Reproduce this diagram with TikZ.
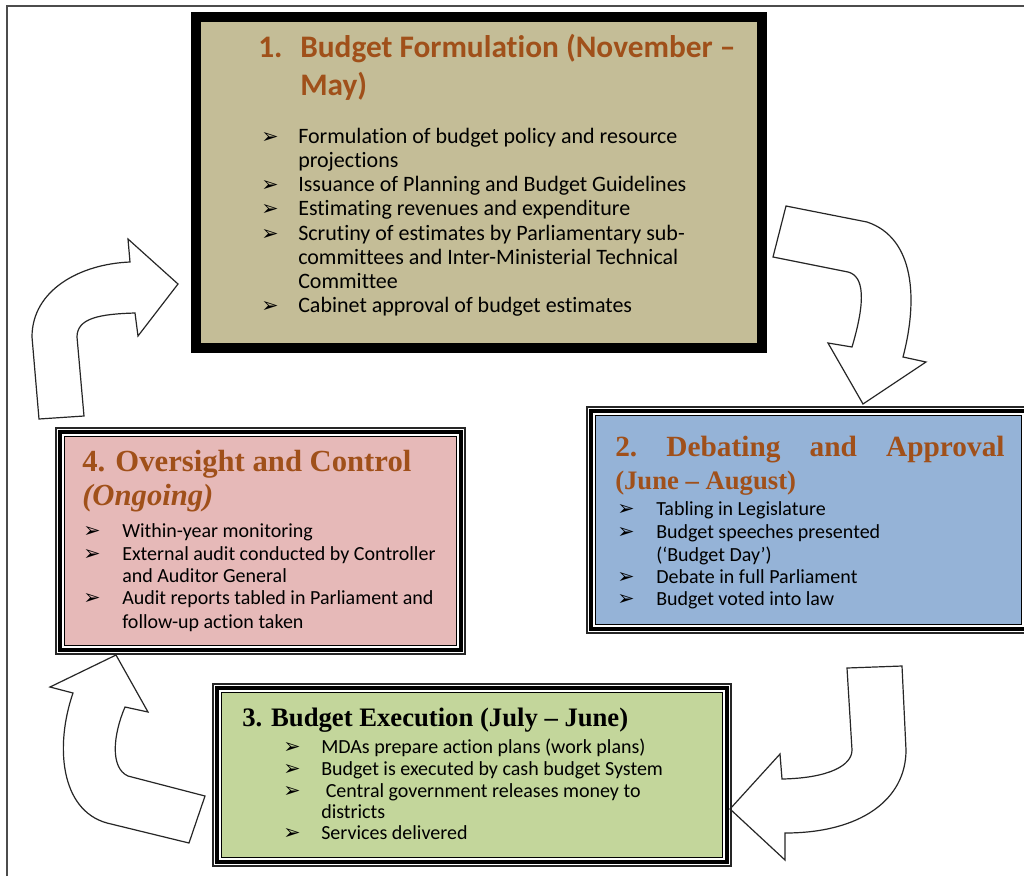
\documentclass[tikz,border=0pt]{standalone}
\usepackage{fontspec}
\setmainfont{Liberation Serif}
\setsansfont[Ligatures=NoCommon]{Carlito}
\newfontfamily\dejavu{DejaVu Sans}
\usetikzlibrary{calc}

\definecolor{titlebrown}{HTML}{A0501A}
\definecolor{tanfill}{HTML}{C4BD97}
\definecolor{bluefill}{HTML}{95B3D7}
\definecolor{greenfill}{HTML}{C3D69B}
\definecolor{pinkfill}{HTML}{E6B9B8}

\newcommand{\bul}{\symbol{"27A2}}
% frame of three lines: x1,y1,x2,y2,fill
\newcommand{\triframe}[5]{%
  \draw[line width=0.8pt,black!85] (#1,#2) rectangle (#3,#4);
  \draw[line width=3pt] ($(#1,#2)+(4,4)$) rectangle ($(#3,#4)+(-4,-4)$);
  \draw[line width=0.8pt,fill=#5] ($(#1,#2)+(8.5,8.5)$) rectangle ($(#3,#4)+(-8.5,-8.5)$);
}

\tikzset{
  blockarrow/.style={draw=black!85,line width=0.9pt,fill=white,line join=miter},
  bullet/.style={anchor=base west,inner sep=0pt,font=\dejavu\bfseries\fontsize{15.5}{16}\selectfont},
  itemone/.style={anchor=base west,inner sep=0pt,font=\sffamily\fontsize{16.5}{18}\selectfont},
  item/.style={anchor=base west,inner sep=0pt,font=\sffamily\fontsize{15}{17}\selectfont},
  headone/.style={anchor=base west,inner sep=0pt,text=titlebrown,font=\sffamily\bfseries\fontsize{23.5}{28}\selectfont},
  head/.style={anchor=base west,inner sep=0pt,text=titlebrown,font=\bfseries\fontsize{23}{28}\selectfont},
}

\begin{document}
\begin{tikzpicture}[x=0.75pt,y=-0.75pt]
  \useasboundingbox (0,0) rectangle (1024,876);
  \fill[white] (0,0) rectangle (1024,876);
  \draw[line width=0.8pt,black!70] (7,876) -- (7,6) -- (1024,6);

  % curved arrows
  \draw[blockarrow] (39,419) -- (32,337) .. controls (32,290) and (80,264) .. (130,262)
    -- (128,239) -- (178,284) -- (138,336) -- (135,313)
    .. controls (100,314) and (77,318) .. (77,337) -- (84,416) -- cycle;
  \draw[blockarrow] (786,206) -- (773,257) -- (848,272) .. controls (864,276) and (866,300) .. (852,347)
    -- (828,343) -- (863,404) -- (926,362) -- (903,357)
    .. controls (918,300) and (915,238) .. (867,222) -- cycle;
  \draw[blockarrow] (847,668) -- (902,666) -- (906,750) .. controls (906,800) and (860,833) .. (785,833)
    -- (785,860) -- (730,809) -- (780,754) -- (782,779)
    .. controls (830,778) and (852,765) .. (852,750) -- cycle;
  \draw[blockarrow] (116,655) -- (148,712) -- (125,707) .. controls (113,735) and (110,768) .. (128,776)
    -- (205,796) -- (189,843) -- (107,823)
    .. controls (60,810) and (55,745) .. (73,693) -- (50,687) -- cycle;

  % 1. formulation
  \draw[line width=7.5pt,fill=tanfill] (196,17) rectangle (762,348);
  \node[headone] (f-t1) at (258,57) {1.};
  \node[headone] (f-t2) at (300,57) {Budget Formulation (November –};
  \node[headone] (f-t3) at (300,95) {May)};
  \foreach \y/\t in {143/{Formulation of budget policy and resource},167/projections,
      191/{Issuance of Planning and Budget Guidelines},215/{Estimating revenues and expenditure},
      240/{Scrutiny of estimates by Parliamentary sub-},264/{committees and Inter-Ministerial Technical},
      288/Committee,312/{Cabinet approval of budget estimates}}
    \node[itemone] (f-\y) at (298,\y) {\t};
  \foreach \y in {143,191,215,240,312}
    \node[bullet] (fb-\y) at (261,\y) {\bul};

  % 2. debating
  \triframe{587}{407}{1030}{633}{bluefill}
  \node[head,font=\bfseries\fontsize{22}{26}\selectfont] (d-t1) at (615,456)
    {\hbox to 292pt{2.\hfill Debating\hfill and\hfill Approval}};
  \node[head,font=\bfseries\fontsize{20}{24}\selectfont] (d-t2) at (615,489) {(June – August)};
  \foreach \y/\t in {515/{Tabling in Legislature},538/{Budget speeches presented},
      561/{(‘Budget Day’)},583/{Debate in full Parliament},605/{Budget voted into law}}
    \node[item] (d-\y) at (656,\y) {\t};
  \foreach \y in {515,538,583,605}
    \node[bullet] (db-\y) at (617,\y) {\bul};

  % 4. oversight
  \triframe{56}{428}{465}{654}{pinkfill}
  \node[head] (o-t1) at (82,471) {4. Oversight and Control};
  \node[head,font=\bfseries\itshape\fontsize{23}{28}\selectfont] (o-t2) at (82,505) {(Ongoing)};
  \foreach \y/\t in {537/{Within-year monitoring},560/{External audit conducted by Controller},
      582/{and Auditor General},604/{Audit reports tabled in Parliament and},628/{follow-up action taken}}
    \node[item] (o-\y) at (122,\y) {\t};
  \foreach \y in {537,560,604}
    \node[bullet] (ob-\y) at (83,\y) {\bul};

  % 3. execution
  \triframe{213}{684}{731}{866}{greenfill}
  \node[head,text=black,font=\bfseries\fontsize{20}{24}\selectfont] (e-t1) at (242,726) {3. Budget Execution (July – June)};
  \foreach \y/\t in {753/{MDAs prepare action plans (work plans)},775/{Budget is executed by cash budget System},
      797/{\ Central government releases money to},818/districts,839/{Services delivered}}
    \node[item] (e-\y) at (321,\y) {\t};
  \foreach \y in {753,775,797,839}
    \node[bullet] (eb-\y) at (283,\y) {\bul};
\end{tikzpicture}
\end{document}
